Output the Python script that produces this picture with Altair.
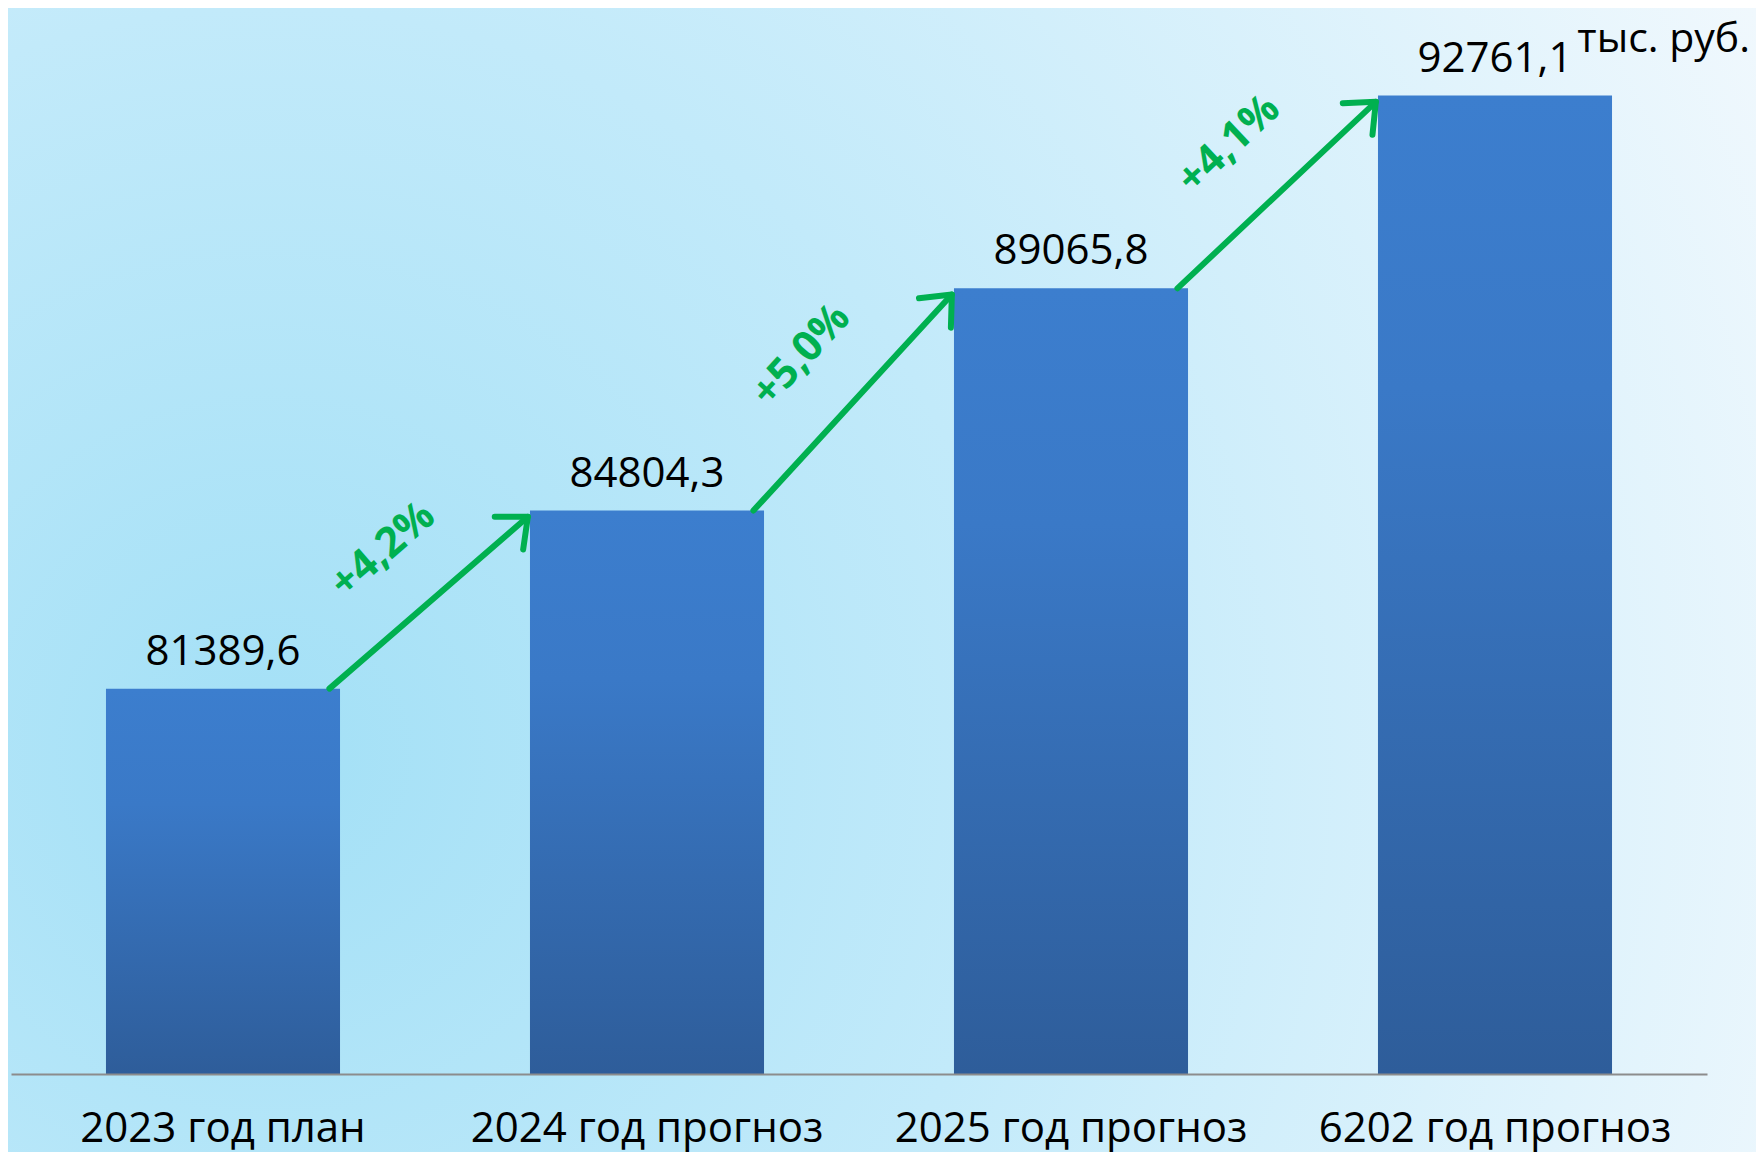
import math
import altair as alt
import pandas as pd

# ---- data ----
categories = ["2023 год план", "2024 год прогноз", "2025 год прогноз", "6202 год прогноз"]
values = [81389.6, 84804.3, 89065.8, 92761.1]
value_labels = ["81389,6", "84804,3", "89065,8", "92761,1"]
growth_labels = ["+4,2%", "+5,0%", "+4,1%"]
unit_label = "тыс. руб."

# ---- layout ----
W, H = 1696, 1043
Y_MIN, Y_MAX = 74000, 94000
PAD_INNER = 0.448
GREEN = "#00B050"
FONT = "Open Sans"

step = W / len(categories)
ky = H / (Y_MAX - Y_MIN)
half = (1 - PAD_INNER) / 2

bars = pd.DataFrame({"cat": categories, "val": values, "lbl": value_labels})

rows = []
for i, g in enumerate(growth_labels):
    x0 = i + 0.5 + half - 0.025
    x1 = i + 1.5 - half - 0.005
    y0 = values[i]
    y1 = values[i + 1] - 120
    dxp = (x1 - x0) * step
    dyp = (y1 - y0) * ky
    head = math.degrees(math.atan2(dxp, dyp))
    rows.append({
        "x0": x0, "x1": x1, "y0": y0, "y1": y1,
        "xm": (x0 + x1) / 2, "ym": (y0 + y1) / 2,
        "head": head, "tang": 270 + head, "g": g,
    })
arrows = pd.DataFrame(rows)
single = pd.DataFrame({"t": [unit_label]})

yscale = alt.Scale(domain=[Y_MIN, Y_MAX], zero=False)
xq = alt.Scale(domain=[0, len(categories)])

bg = alt.Chart(single).mark_rect(
    fill=alt.Gradient(
        gradient="radial",
        stops=[
            alt.GradientStop(color="#a3e0f6", offset=0),
            alt.GradientStop(color="#c2eafa", offset=0.45),
            alt.GradientStop(color="#f0f8fd", offset=1),
        ],
        x1=0.15, y1=0.6, r1=0, x2=0.15, y2=0.6, r2=0.95,
    )
).encode(
    x=alt.value(-3), x2=alt.value(W + 49), y=alt.value(-23), y2=alt.value(H + 78)
)

bar = alt.Chart(bars).mark_bar(
    fill=alt.Gradient(
        gradient="linear",
        stops=[
            alt.GradientStop(color="#3C7ECE", offset=0),
            alt.GradientStop(color="#3A79C7", offset=0.3),
            alt.GradientStop(color="#2E5D9A", offset=1),
        ],
        x1=0, x2=0, y1=0, y2=1,
    )
).encode(
    x=alt.X("cat:N", sort=None,
            scale=alt.Scale(paddingInner=PAD_INNER, paddingOuter=PAD_INNER / 2),
            axis=alt.Axis(title=None, ticks=False, labelAngle=0, labelFont=FONT,
                          labelFontSize=42, labelColor="#000000", labelPadding=67,
                          labelBaseline="alphabetic", labelLimit=0, labelOverlap=False,
                          domainColor="#8C8C8C", domainWidth=2, grid=False, zindex=1)),
    y=alt.Y("val:Q", scale=yscale, axis=None),
    y2=alt.Y2(datum=Y_MIN),
)

vals = alt.Chart(bars).mark_text(
    baseline="alphabetic", dy=-24, fontSize=42, font=FONT, color="#000000"
).encode(
    x=alt.X("cat:N", sort=None), y=alt.Y("val:Q", scale=yscale), text="lbl:N"
)

shaft = alt.Chart(arrows).mark_rule(
    color=GREEN, strokeWidth=6, strokeCap="round"
).encode(
    x=alt.X("x0:Q", scale=xq, axis=None), x2="x1:Q",
    y=alt.Y("y0:Q", scale=yscale), y2="y1:Q",
)

head = alt.Chart(arrows).mark_point(
    shape="M -0.65 0.75 L 0 0 L 0.65 0.75", size=4450, filled=False,
    color=GREEN, strokeWidth=6, strokeCap="round", strokeJoin="round", opacity=1,
).encode(
    x=alt.X("x1:Q", scale=xq, axis=None), y=alt.Y("y1:Q", scale=yscale),
    angle=alt.Angle("head:Q", scale=None),
)

glabel = alt.Chart(arrows).mark_text(
    fontSize=42, fontWeight="bold", font=FONT, color=GREEN,
    baseline="middle", align="center", dy=-70,
).encode(
    x=alt.X("xm:Q", scale=xq, axis=None), y=alt.Y("ym:Q", scale=yscale),
    text="g:N", angle=alt.Angle("tang:Q", scale=None),
)

unit = alt.Chart(single).mark_text(
    align="right", baseline="alphabetic", fontSize=41, font=FONT, color="#000000"
).encode(x=alt.value(W + 43), y=alt.value(21), text="t:N")

chart = alt.layer(bg, bar, vals, shaft, head, glabel, unit).resolve_scale(
    x="independent"
).properties(
    width=W, height=H,
    autosize=alt.AutoSizeParams(type="none"),
    padding={"left": 3, "top": 23, "right": 49, "bottom": 78},
    background="#e8f6fc",
).configure_view(stroke=None)

chart.save("out.html", embed_options={"renderer": "svg", "actions": False})
